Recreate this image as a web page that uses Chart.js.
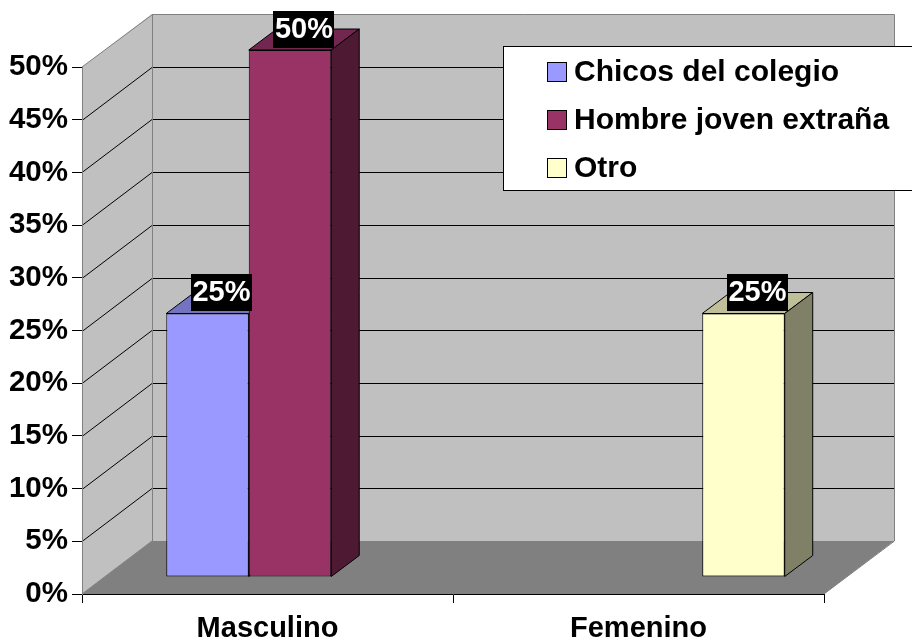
<!DOCTYPE html>
<html>
<head>
<meta charset="utf-8">
<script src="https://cdn.jsdelivr.net/npm/chart.js@4.4.1/dist/chart.umd.min.js"></script>
<style>
  html, body { margin: 0; padding: 0; background: #fff; }
  #wrap { width: 912px; height: 641px; }
</style>
</head>
<body>
<div id="wrap"><canvas id="c" width="912" height="641"></canvas></div>
<script>
// ---- data ----
const categories = ['Masculino', 'Femenino'];
const seriesNames = ['Chicos del colegio', 'Hombre joven extraña', 'Otro'];
const chicosValues = [25, 0];
const hombreValues = [50, 0];
const otroValues = [0, 25];
const yMin = 0, yMax = 50, yStep = 5;

// ---- styles ----
const frontColors = ['#9999FF', '#993366', '#FFFFCC'];
const topColors = ['#7373BF', '#732650', '#BFBF99'];
const sideColors = ['#4D4D80', '#4D1933', '#808066'];
const FONT = '"Liberation Sans", Arial, sans-serif';
const WALL = { x: 70, y: 53 };    // depth of the 3D walls
const PLANE = { x: 22.5, y: 17 }; // offset of the bar front plane
const BAR = { x: 28, y: 21 };     // bar depth

const threeD = {
  id: 'threeD',
  beforeDraw(chart) {
    const ctx = chart.ctx;
    const ys = chart.scales.y;
    const L = chart.chartArea.left, R = chart.chartArea.right;
    const y0 = ys.getPixelForValue(yMin), yT = ys.getPixelForValue(yMax);
    ctx.save();
    ctx.fillStyle = '#fff';
    ctx.fillRect(0, 0, chart.width, chart.height);
    // back wall
    ctx.fillStyle = '#C0C0C0';
    ctx.fillRect(L + WALL.x, yT - WALL.y, R - L, y0 - yT);
    // side wall
    ctx.beginPath();
    ctx.moveTo(L, y0); ctx.lineTo(L, yT); ctx.lineTo(L + WALL.x, yT - WALL.y); ctx.lineTo(L + WALL.x, y0 - WALL.y);
    ctx.closePath(); ctx.fill();
    // floor
    ctx.fillStyle = '#808080';
    ctx.beginPath();
    ctx.moveTo(L, y0); ctx.lineTo(R, y0); ctx.lineTo(R + WALL.x, y0 - WALL.y); ctx.lineTo(L + WALL.x, y0 - WALL.y);
    ctx.closePath(); ctx.fill();
    // gridlines
    ctx.lineWidth = 1;
    ctx.strokeStyle = '#000';
    ys.ticks.forEach(t => {
      if (t.value <= yMin || t.value >= yMax) return;
      const py = Math.round(ys.getPixelForValue(t.value)) + 0.5;
      ctx.beginPath();
      ctx.moveTo(L, py);
      ctx.lineTo(L + WALL.x, py - WALL.y);
      ctx.lineTo(R + WALL.x, py - WALL.y);
      ctx.stroke();
    });
    // edges
    ctx.strokeStyle = '#808080';
    ctx.beginPath();
    ctx.moveTo(L, yT); ctx.lineTo(L + WALL.x + 0.5, yT - WALL.y + 0.5);
    ctx.lineTo(R + WALL.x + 0.5, yT - WALL.y + 0.5); ctx.lineTo(R + WALL.x + 0.5, y0 - WALL.y);
    ctx.lineTo(R, y0);
    ctx.moveTo(L + WALL.x + 0.5, yT - WALL.y); ctx.lineTo(L + WALL.x + 0.5, y0 - WALL.y + 0.5);
    ctx.lineTo(R + WALL.x, y0 - WALL.y + 0.5);
    ctx.moveTo(L, y0); ctx.lineTo(L + WALL.x, y0 - WALL.y);
    ctx.stroke();
    ctx.restore();
  },
  beforeDatasetsDraw(chart) {
    const ctx = chart.ctx;
    ctx.save();
    ctx.translate(PLANE.x, -PLANE.y);
    chart.data.datasets.forEach((ds, di) => {
      const meta = chart.getDatasetMeta(di);
      meta.data.forEach((el, i) => {
        if (!ds.data[i]) return;
        const x1 = el.x - el.width / 2, x2 = el.x + el.width / 2;
        const top = el.y, base = el.base;
        ctx.lineWidth = 1;
        ctx.strokeStyle = '#000';
        ctx.lineJoin = 'round';
        // top face
        ctx.fillStyle = topColors[di];
        ctx.beginPath();
        ctx.moveTo(x1, top); ctx.lineTo(x2, top); ctx.lineTo(x2 + BAR.x, top - BAR.y); ctx.lineTo(x1 + BAR.x, top - BAR.y);
        ctx.closePath(); ctx.fill(); ctx.stroke();
        // side face
        ctx.fillStyle = sideColors[di];
        ctx.beginPath();
        ctx.moveTo(x2, top); ctx.lineTo(x2 + BAR.x, top - BAR.y); ctx.lineTo(x2 + BAR.x, base - BAR.y); ctx.lineTo(x2, base);
        ctx.closePath(); ctx.fill(); ctx.stroke();
      });
    });
  },
  afterDatasetsDraw(chart) {
    const ctx = chart.ctx;
    ctx.restore();
    ctx.save();
    ctx.font = 'bold 29px ' + FONT;
    ctx.textAlign = 'center';
    ctx.textBaseline = 'middle';
    chart.data.datasets.forEach((ds, di) => {
      const meta = chart.getDatasetMeta(di);
      meta.data.forEach((el, i) => {
        const v = ds.data[i];
        if (!v) return;
        const cx = el.x + PLANE.x + BAR.x / 2;
        const cy = el.y - PLANE.y - BAR.y / 2 - 11;
        const txt = v + '%';
        const w = ctx.measureText(txt).width + 3;
        ctx.fillStyle = '#000';
        ctx.fillRect(Math.round(cx - w / 2), Math.round(cy - 18), Math.round(w), 37);
        ctx.fillStyle = '#fff';
        ctx.fillText(txt, cx, cy + 1);
      });
    });
    ctx.restore();
  },
  afterDraw(chart) {
    const ctx = chart.ctx;
    ctx.save();
    ctx.fillStyle = '#fff';
    ctx.strokeStyle = '#000';
    ctx.lineWidth = 1;
    ctx.fillRect(503.5, 46.5, 420, 144);
    ctx.strokeRect(503.5, 46.5, 420, 144);
    ctx.font = 'bold 30px ' + FONT;
    ctx.textBaseline = 'middle';
    ctx.textAlign = 'left';
    chart.data.datasets.forEach((ds, di) => {
      const cy = 72 + di * 48;
      ctx.fillStyle = ds.backgroundColor;
      ctx.fillRect(547.5, cy - 9.5, 19, 19);
      ctx.strokeRect(547.5, cy - 9.5, 19, 19);
      ctx.fillStyle = '#000';
      ctx.fillText(ds.label, 574, cy + 1);
    });
    ctx.restore();
  }
};

const seriesValues = [chicosValues, hombreValues, otroValues];

new Chart(document.getElementById('c'), {
  type: 'bar',
  data: {
    labels: categories,
    datasets: seriesNames.map((name, i) => ({
      label: name,
      data: seriesValues[i],
      backgroundColor: frontColors[i],
      borderColor: '#000',
      borderWidth: ctx => (ctx.raw ? 1 : 0),
      borderSkipped: false,
      categoryPercentage: 0.667,
      barPercentage: 1.0,
      clip: false
    }))
  },
  options: {
    responsive: false,
    animation: false,
    devicePixelRatio: 1,
    layout: { padding: { top: 67, right: 88, left: 0, bottom: 0 } },
    plugins: { legend: { display: false }, tooltip: { enabled: false } },
    scales: {
      x: {
        offset: true,
        grid: { display: true, drawOnChartArea: false, drawTicks: true, tickLength: 9, color: '#000', offset: true },
        border: { display: true, color: '#000', width: 1 },
        ticks: { color: '#000', font: { family: FONT, size: 29, weight: 'bold' }, padding: 9, maxRotation: 0 },
        afterFit: s => { s.height = 47; }
      },
      y: {
        min: yMin, max: yMax,
        grid: { display: true, drawOnChartArea: false, drawTicks: true, tickLength: 10, color: '#000' },
        border: { display: true, color: '#808080', width: 1 },
        ticks: { stepSize: yStep, color: '#000', font: { family: FONT, size: 29.5, weight: 'bold' }, padding: 4,
                 callback: v => v + '%' },
        afterFit: s => { s.width = 82; }
      }
    }
  },
  plugins: [threeD]
});
</script>
</body>
</html>
